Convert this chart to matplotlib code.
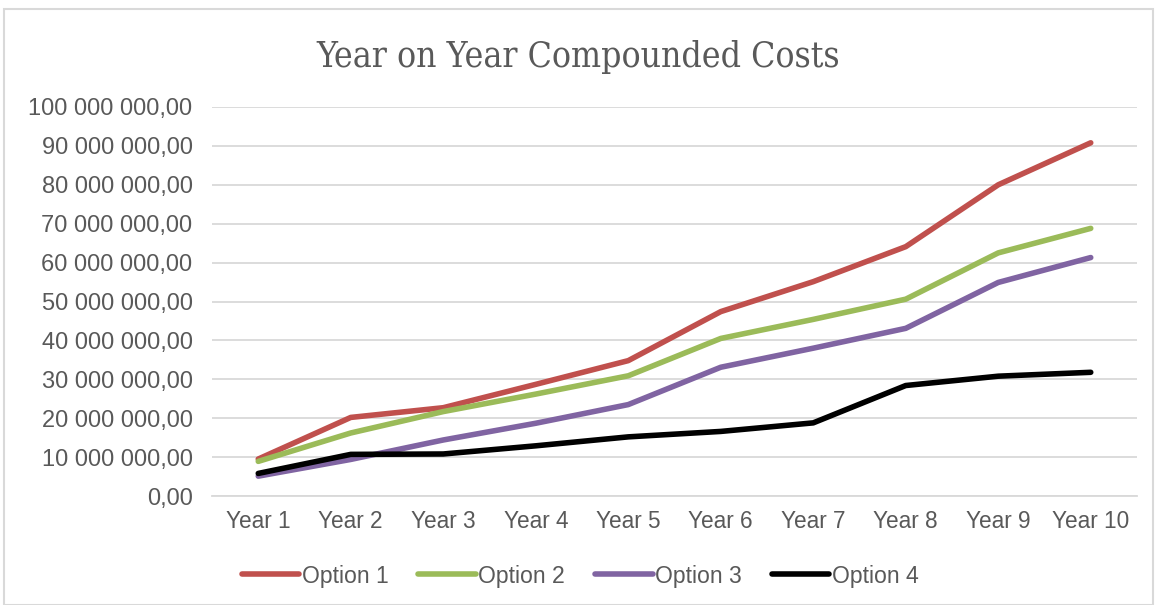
import matplotlib
matplotlib.use("Agg")
import matplotlib.pyplot as plt
from matplotlib.patches import Rectangle
from matplotlib.ticker import FuncFormatter

years = ["Year 1", "Year 2", "Year 3", "Year 4", "Year 5",
         "Year 6", "Year 7", "Year 8", "Year 9", "Year 10"]
option1 = [9.5e6, 20.2e6, 22.7e6, 28.7e6, 34.8e6, 47.4e6, 55.1e6, 64.1e6, 80.0e6, 90.8e6]
option2 = [8.9e6, 16.2e6, 21.7e6, 26.2e6, 30.9e6, 40.5e6, 45.4e6, 50.6e6, 62.5e6, 68.8e6]
option3 = [5.1e6, 9.4e6, 14.4e6, 18.7e6, 23.5e6, 33.1e6, 38.0e6, 43.1e6, 54.9e6, 61.3e6]
option4 = [5.8e6, 10.7e6, 10.8e6, 12.9e6, 15.2e6, 16.6e6, 18.8e6, 28.4e6, 30.8e6, 31.8e6]
series_names = ["Option 1", "Option 2", "Option 3", "Option 4"]
colors = ["#C0504D", "#9BBB59", "#8064A2", "#000000"]
yticks = [i * 10e6 for i in range(11)]
title = "Year on Year Compounded Costs"

txt = "#595959"
grid = "#D9D9D9"

fig = plt.figure(figsize=(11.57, 6.05), dpi=100)
fig.patches.append(Rectangle((4/1157, 0), 1149/1157, 1 - 9/605, transform=fig.transFigure,
                             fill=False, edgecolor="#D9D9D9", linewidth=1.5))
ax = fig.add_axes([212/1157, 1 - 496/605, 925/1157, 389/605])

x = list(range(len(years)))
for vals, name, c in zip([option1, option2, option3, option4], series_names, colors):
    ax.plot(x, vals, color=c, linewidth=4.0, solid_capstyle="round",
            solid_joinstyle="round", label=name)

ax.set_xlim(-0.5, len(years) - 0.5)
ax.set_ylim(0, 100e6)
ax.set_yticks(yticks)
ax.set_xticks(x)
ax.set_xticklabels(years)

def fmt(v, pos):
    s = f"{v:,.2f}".replace(",", " ").replace(".", ",")
    return s
ax.yaxis.set_major_formatter(FuncFormatter(fmt))

ax.grid(axis="y", color=grid, linewidth=1.3)
ax.set_axisbelow(True)
for s in ["top", "right", "left"]:
    ax.spines[s].set_visible(False)
ax.spines["bottom"].set_color(grid)
ax.spines["bottom"].set_linewidth(1.3)
ax.tick_params(axis="both", length=0, labelcolor=txt,
               labelfontfamily="Liberation Sans")
ax.tick_params(axis="x", pad=10, labelsize=16.3)
ax.tick_params(axis="y", pad=14, labelsize=17.0)

fig.text(0.5, 1 - 57/605, title, ha="center", va="center", fontsize=25.5,
         color=txt, family="DejaVu Serif", stretch="condensed")

leg = fig.legend(loc="center", bbox_to_anchor=(580/1157, 1 - 576/605), ncol=4,
                 frameon=False, prop={"family": "Liberation Sans", "size": 16.6},
                 handlelength=2.5, handletextpad=0.1, columnspacing=1.3, borderpad=0)
for t in leg.get_texts():
    t.set_color(txt)

fig.savefig("out.png", dpi=100)
